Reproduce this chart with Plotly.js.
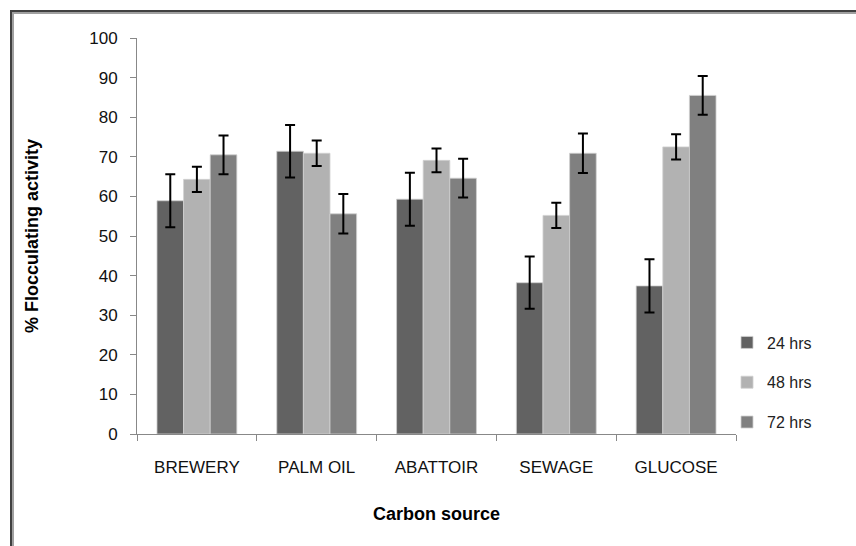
<!DOCTYPE html>
<html>
<head>
<meta charset="utf-8">
<script src="https://cdn.plot.ly/plotly-3.0.1.min.js"></script>
<style>
  html, body { margin: 0; padding: 0; background: #fff; }
  #wrap { position: relative; width: 856px; height: 546px; overflow: hidden; }
  #chart { position: absolute; left: 0; top: 0; width: 856px; height: 546px; }
  #frame { position: absolute; left: 10px; top: 10px; width: 900px; height: 600px;
           border-left: 2px solid #404040; border-top: 2px solid #404040;
           box-shadow: inset 2px 2px 0 #a0a0a0; pointer-events: none; }
</style>
</head>
<body>
<div id="wrap">
  <div id="chart"></div>
  <div id="frame"></div>
</div>
<script>
const categories = ["BREWERY", "PALMOIL", "ABATTOIR", "SEWAGE", "GLUCOSE"];
const tickLabels = ["BREWERY", "PALM OIL", "ABATTOIR", "SEWAGE", "GLUCOSE"];
const seriesNames = ["24 hrs", "48 hrs", "72 hrs"];
const hrs24 = [58.9, 71.4, 59.3, 38.2, 37.4];
const hrs48 = [64.3, 70.9, 69.1, 55.2, 72.5];
const hrs72 = [70.5, 55.6, 64.6, 70.9, 85.5];
const err24 = [6.7, 6.6, 6.7, 6.6, 6.7];
const err48 = [3.2, 3.2, 3.0, 3.2, 3.2];
const err72 = [4.9, 5.0, 4.9, 5.0, 4.9];
const colors = ["#626262", "#b2b2b2", "#808080"];

const values = [hrs24, hrs48, hrs72];
const errors = [err24, err48, err72];
const FONT = '"Liberation Sans Narrow", "Liberation Sans", Arial, sans-serif';

const traces = seriesNames.map((name, i) => ({
  type: 'bar',
  name: name,
  legendgroup: 'g' + i,
  x: categories,
  y: values[i],
  marker: { color: colors[i], line: { color: '#d0d0d0', width: 0.8 } },
  error_y: { type: 'data', array: errors[i], visible: true, color: '#000', thickness: 2, width: 5 },
  hoverinfo: 'x+y+name'
}));

const layout = {
  width: 856, height: 546,
  margin: { l: 137, r: 120, t: 38, b: 112 },
  paper_bgcolor: '#fff', plot_bgcolor: '#fff',
  barmode: 'group', bargap: 1/3, bargroupgap: 0,
  showlegend: true,
  legend: {
    x: 0.985, xanchor: 'left', y: 0.13, yanchor: 'middle',
    font: { family: FONT, size: 16, color: '#222' },
    traceorder: 'grouped', tracegroupgap: 16,
    itemwidth: 30, bgcolor: 'rgba(0,0,0,0)'
  },
  xaxis: {
    type: 'category',
    tickvals: categories, ticktext: tickLabels,
    showline: true, linecolor: '#888', linewidth: 1,
    ticks: 'outside', tickson: 'boundaries', ticklen: 6, tickcolor: '#888',
    ticklabelstandoff: 18,
    showgrid: false, zeroline: false,
    tickfont: { family: FONT, size: 17, color: '#111' },
    title: { text: '<b>Carbon source</b>', font: { family: FONT, size: 18, color: '#000' }, standoff: 30 },
    automargin: false
  },
  yaxis: {
    range: [0, 100], dtick: 10, tick0: 0,
    showline: true, linecolor: '#888', linewidth: 1,
    ticks: 'outside', ticklen: 6, tickcolor: '#888',
    ticklabelstandoff: 9,
    showgrid: false, zeroline: false,
    tickfont: { family: FONT, size: 17, color: '#111' },
    title: { text: '<b>% Flocculating activity</b>', font: { family: FONT, size: 18, color: '#000' }, standoff: 45 },
    automargin: false
  },
  font: { family: FONT }
};

Plotly.newPlot('chart', traces, layout, { displayModeBar: false, staticPlot: true });
</script>
</body>
</html>
